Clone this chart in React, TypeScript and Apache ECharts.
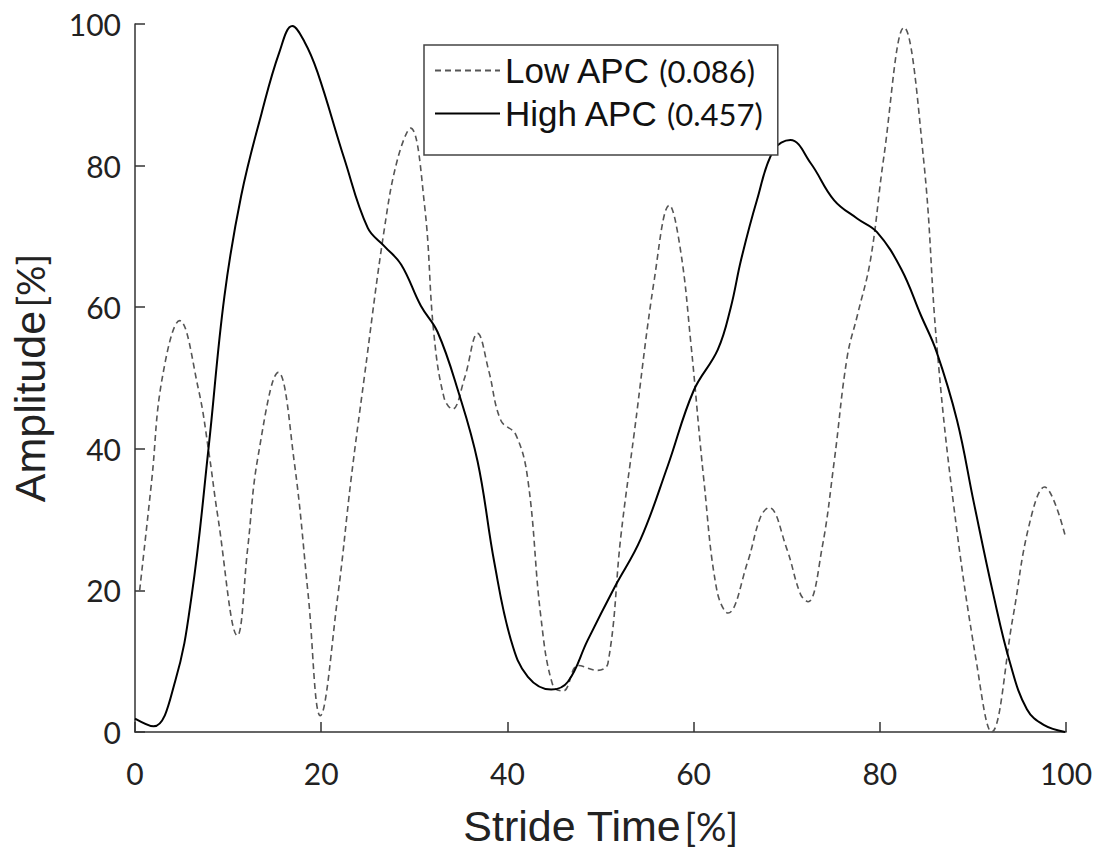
import React, { useEffect, useRef } from "react";
import * as echarts from "echarts";

const seriesNames = ["Low APC", "High APC"];
const seriesValues = ["(0.086)", "(0.457)"];
const xTicks = [0, 20, 40, 60, 80, 100];
const yTicks = [0, 20, 40, 60, 80, 100];

const lowAPC: [number, number][] = [
  [0.5, 20], [1.8, 35.6], [2.9, 49.8], [4.8, 58.1], [6.8, 48.5], [7.9, 39.8], [8.9, 30.4],
  [11.0, 13.6], [12.1, 25.9], [13.2, 38.8], [15.4, 50.8], [17.1, 38.2], [18.6, 19.4],
  [19.9, 2.3], [21.8, 19.4], [23.2, 35.6], [24.6, 49.8], [26.8, 71.2], [28.2, 80.9],
  [29.6, 85.3], [31.1, 74.4], [32.1, 56.3], [33.2, 47.2], [34.1, 45.6], [35.4, 50],
  [36.8, 56.3], [38.0, 51], [39.3, 44], [40.9, 42], [42.2, 35.6], [43.6, 16.2],
  [44.9, 6.5], [46.0, 5.8], [47.6, 9.4], [49.7, 8.7], [50.8, 9.7], [52.2, 27.8],
  [53.6, 42], [55.8, 64.1], [57.4, 74.4], [58.6, 68], [59.7, 55], [61.1, 35.6],
  [62.5, 20], [63.7, 16.8], [65.8, 24], [67.2, 30.4], [68.1, 31.7], [70.0, 25.9],
  [71.5, 19.4], [72.3, 18.4], [73.8, 26], [75.1, 38.2], [76.5, 53], [77.6, 58.9],
  [79.0, 66.7], [80.4, 80.9], [82.6, 99.5], [84.7, 80.9], [86.1, 55], [87.9, 32.4],
  [90.4, 9.7], [92.0, 0], [94.3, 16.2], [96.0, 29], [97.7, 34.6], [99.9, 27.8],
];

const highAPC: [number, number][] = [
  [0, 1.9], [2.0, 0.8], [4.3, 7.1], [6.1, 19.4], [7.9, 40.1], [9.6, 61.5], [11.4, 75.7],
  [13.6, 87.4], [15.5, 96], [16.9, 99.7], [18.2, 97.5], [19.6, 93.2], [22.5, 80.9],
  [25.0, 71.2], [26.8, 68.6], [28.6, 66], [30.7, 60.2], [32.5, 56.5], [34.7, 48.2],
  [36.8, 38.2], [38.6, 23.9], [40.4, 12.9], [42.2, 7.8], [44.7, 6.0], [46.5, 7.1],
  [48.6, 12.9], [51.5, 20.4], [54.3, 27.2], [57.2, 37.5], [60.0, 48.2], [62.6, 54],
  [64.0, 60], [65.1, 66.7], [66.8, 75.1], [68.6, 82.2], [70.4, 83.6], [72.6, 80.3],
  [75.1, 75.1], [77.6, 72.5], [79.7, 70.6], [82.3, 65.4], [84.4, 58.9], [86.1, 53.7],
  [88.3, 44], [90.1, 32.4], [92.2, 19.4], [94.0, 9.7], [95.8, 3.2], [97.6, 1.0], [99.9, 0],
];

const AXIS_COLOR = "#333";
const TEXT_COLOR = "#222";

export default function App() {
  const ref = useRef<HTMLDivElement>(null);
  useEffect(() => {
    if (!ref.current) return;
    const chart = echarts.init(ref.current, null, { renderer: "svg" });
    const axisCommon = {
      type: "value" as const,
      min: xTicks[0],
      max: xTicks[xTicks.length - 1],
      interval: 20,
      axisLine: { show: true, lineStyle: { color: AXIS_COLOR, width: 1.5 } },
      axisTick: { show: true, inside: true, length: 10, lineStyle: { color: AXIS_COLOR, width: 1.5 } },
      splitLine: { show: false },
      axisLabel: { fontFamily: "Lato", fontSize: 30, color: TEXT_COLOR },
    };
    const nameRich = {
      n: { fontFamily: "Liberation Sans", fontSize: 43, color: TEXT_COLOR },
      u: { fontFamily: "Lato", fontSize: 38, color: TEXT_COLOR },
    };
    chart.setOption({
      animation: false,
      backgroundColor: "#fff",
      grid: { left: 133, top: 24, width: 933, height: 708 },
      legend: {
        left: 424,
        top: 45,
        orient: "vertical",
        backgroundColor: "#fff",
        borderColor: "#444",
        borderWidth: 1.5,
        borderRadius: 0,
        padding: [8, 15, 24, 10],
        itemWidth: 65,
        itemHeight: 14,
        itemGap: 8,
        itemStyle: { opacity: 0 },
        data: seriesNames,
        formatter: (name: string) => {
          const i = seriesNames.indexOf(name);
          return `{n|${name}} {v|${seriesValues[i]}}`;
        },
        textStyle: {
          rich: {
            n: { fontFamily: "Liberation Sans", fontSize: 35, color: "#111", lineHeight: 42 },
            v: { fontFamily: "Lato", fontSize: 31, color: "#111", lineHeight: 42, padding: [0, 0, 0, 5] },
          },
        },
      },
      xAxis: {
        ...axisCommon,
        axisLabel: { ...axisCommon.axisLabel, margin: 26 },
        name: "{n|Stride Time} {u|[%]}",
        nameLocation: "middle",
        nameGap: 72,
        nameTextStyle: { rich: nameRich },
      },
      yAxis: {
        ...axisCommon,
        min: yTicks[0],
        max: yTicks[yTicks.length - 1],
        axisLabel: { ...axisCommon.axisLabel, margin: 14 },
        name: "{n|Amplitude} {u|[%]}",
        nameLocation: "middle",
        nameGap: 84,
        nameTextStyle: { rich: nameRich },
      },
      series: [
        {
          name: seriesNames[0],
          type: "line",
          data: lowAPC,
          smooth: 0.4,
          symbol: "none",
          lineStyle: { color: "#555", width: 1.6, type: [6, 4] },
          itemStyle: { color: "#555" },
        },
        {
          name: seriesNames[1],
          type: "line",
          data: highAPC,
          smooth: 0.4,
          symbol: "none",
          lineStyle: { color: "#000", width: 2 },
          itemStyle: { color: "#000" },
        },
      ],
    });
    return () => chart.dispose();
  }, []);
  return (
    <div
      ref={ref}
      style={{ position: "fixed", left: 0, top: 0, width: 1097, height: 852 }}
    />
  );
}
